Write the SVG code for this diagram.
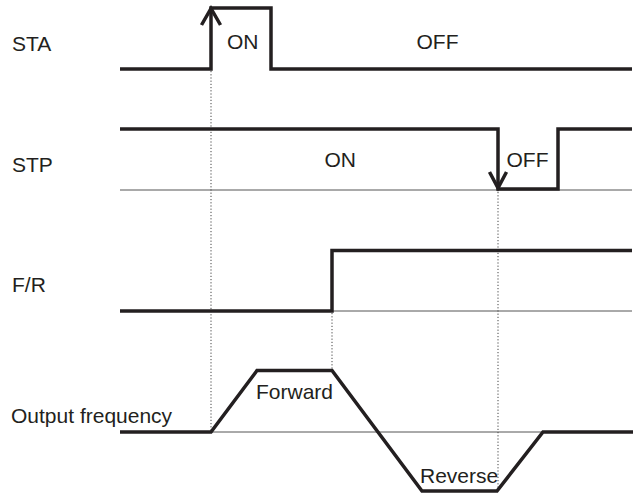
<svg xmlns="http://www.w3.org/2000/svg" width="640" height="498" viewBox="0 0 640 498">
<style>
text{font-family:"Liberation Sans",Arial,sans-serif;font-size:21px;fill:#231f20}
.thick{fill:none;stroke:#231f20;stroke-width:3.5;stroke-linejoin:miter}
.thin{fill:none;stroke:#555;stroke-width:1}
.dot{fill:none;stroke:#444;stroke-width:1;stroke-dasharray:1.2 2}
</style>
<rect width="640" height="498" fill="#fff"/>
<g id="labels">
<text x="12" y="51">STA</text>
<text x="12" y="172">STP</text>
<text x="12" y="292">F/R</text>
<text x="11" y="423">Output frequency</text>
</g>
<g id="connectors">
<line class="thin" x1="120" y1="190" x2="632" y2="190"/>
<line class="thin" x1="332" y1="311" x2="632" y2="311"/>
<line class="thin" x1="211" y1="432" x2="632" y2="432"/>
<line class="dot" x1="211" y1="71" x2="211" y2="431"/>
<line class="dot" x1="332" y1="313" x2="332" y2="370"/>
<line class="dot" x1="498" y1="192" x2="498" y2="491"/>
</g>
<g id="STA">
<polyline class="thick" points="120,69 211,69 211,8 271,8 271,69 632,69"/>
<polyline class="thick" points="201.5,25 211,8.5 220.5,25"/>
<text x="227" y="49">ON</text>
<text x="416.5" y="48.5">OFF</text>
</g>
<g id="STP">
<polyline class="thick" points="120,129 498,129 498,189 558,189 558,129 632,129"/>
<polyline class="thick" points="489.5,172 498,188 506.5,172"/>
<text x="324.5" y="166.7">ON</text>
<text x="506.5" y="166.7">OFF</text>
</g>
<g id="FR">
<polyline class="thick" points="120,311 332,311 332,250.5 632,250.5"/>
</g>
<g id="output-frequency">
<polyline class="thick" points="120,432 211,432 257,370.5 332,370.5 422,491 497,491 543,432 633,432"/>
<text x="256" y="399.3">Forward</text>
<text x="420" y="483.3">Reverse</text>
</g>
</svg>
